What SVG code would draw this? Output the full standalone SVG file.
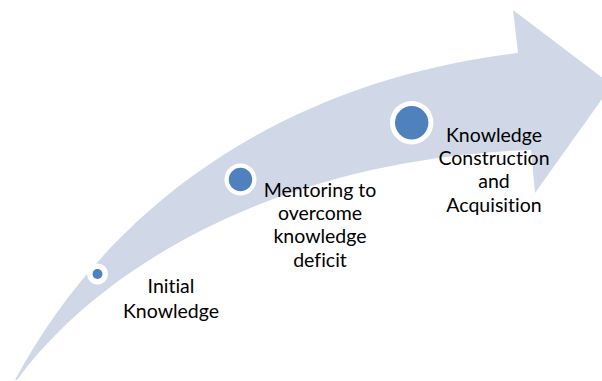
<svg xmlns="http://www.w3.org/2000/svg" width="602" height="381" viewBox="0 0 602 381">
<style>
.lbl{font-family:Lato,"Liberation Sans",sans-serif;font-size:19.5px;fill:#000;text-anchor:middle;font-variant-ligatures:none;font-feature-settings:"liga" 0}
.ring{fill:#fff}
.dot{fill:#4F81BD}
</style>
<rect width="602" height="381" fill="#fff"/>
<g id="connectors">
<path id="arrow" d="M15,380 C105,212 275,82 518,53 L513,10 L612,85 L535,193 L531,150 C260,160 90,280 17,380 Z" fill="#D0D8E8"/>
</g>
<g id="node-initial">
<circle class="ring" cx="97.5" cy="274" r="10.5"/>
<circle class="dot" cx="97.5" cy="274" r="5"/>
<text class="lbl" x="171" y="293.3">Initial</text>
<text class="lbl" x="171" y="317.5">Knowledge</text>
</g>
<g id="node-mentoring">
<circle class="ring" cx="240.5" cy="179.5" r="16"/>
<circle class="dot" cx="240.5" cy="179.5" r="11.7"/>
<text class="lbl" x="320" y="196.7">Mentoring to</text>
<text class="lbl" x="320" y="220">overcome</text>
<text class="lbl" x="320" y="243.3">knowledge</text>
<text class="lbl" x="320" y="266.7">deficit</text>
</g>
<g id="node-construction">
<circle class="ring" cx="411.7" cy="122.7" r="21.7"/>
<circle class="dot" cx="411.7" cy="122.7" r="16.7"/>
<text class="lbl" x="494" y="141.7">Knowledge</text>
<text class="lbl" x="494" y="165">Construction</text>
<text class="lbl" x="494" y="188.3">and</text>
<text class="lbl" x="494" y="211.7">Acquisition</text>
</g>
</svg>
